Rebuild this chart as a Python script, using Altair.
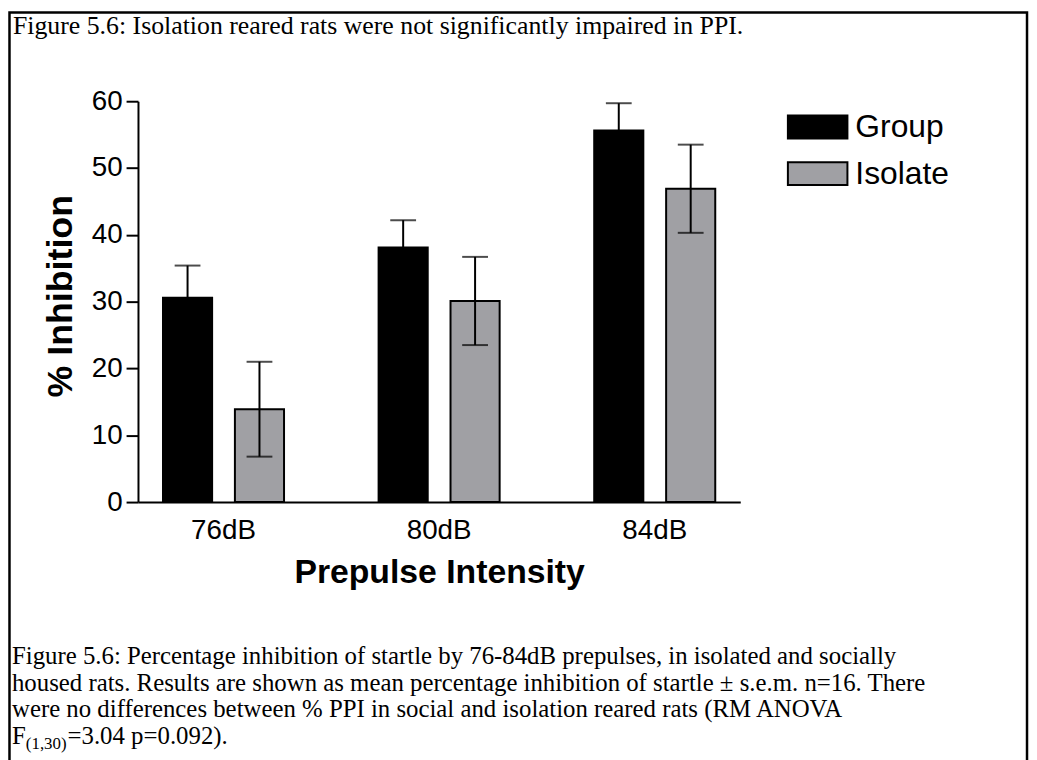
import altair as alt
import pandas as pd

# ---------------- data ----------------
categories = ["76dB", "80dB", "84dB"]
series = ["Group", "Isolate"]
group_mean = [30.6, 38.1, 55.6]
group_sem = [4.8, 4.1, 4.1]
isolate_mean = [13.9, 30.1, 46.9]
isolate_sem = [7.1, 6.6, 6.6]
y_ticks = [0, 10, 20, 30, 40, 50, 60]
series_colors = ["#000000", "#A0A0A4"]

title_text = "Figure 5.6: Isolation reared rats were not significantly impaired in PPI."
caption_lines = [
    "Figure 5.6: Percentage inhibition of startle by 76-84dB prepulses, in isolated and socially",
    "housed rats. Results are shown as mean percentage inhibition of startle \u00b1 s.e.m. n=16. There",
    "were no differences between % PPI in social and isolation reared rats (RM ANOVA",
]
caption_last = ["F", "(1,30)", "=3.04 p=0.092)."]

rows = []
for i, c in enumerate(categories):
    rows.append({"cat": c, "series": "Group", "mean": group_mean[i], "sem": group_sem[i]})
    rows.append({"cat": c, "series": "Isolate", "mean": isolate_mean[i], "sem": isolate_sem[i]})
df = pd.DataFrame(rows)
df["lo"] = df["mean"] - df["sem"]
df["hi"] = df["mean"] + df["sem"]

SANS = "Liberation Sans"
SERIF = "Liberation Serif"

x_enc = alt.X("cat:N", sort=categories,
              scale=alt.Scale(paddingInner=0.4386, paddingOuter=0.116),
              axis=alt.Axis(title="Prepulse Intensity", labelAngle=0, ticks=False, tickSize=0,
                            labelFont=SANS, labelFontSize=28, labelPadding=15, labelColor="black",
                            titleFont=SANS, titleFontSize=34, titleFontWeight="bold", titleColor="black",
                            titleY=81, titleBaseline="alphabetic",
                            domainColor="black", domainWidth=2))
xo_enc = alt.XOffset("series:N", sort=series, scale=alt.Scale(paddingInner=0.317, paddingOuter=0))
y_enc = alt.Y("mean:Q", scale=alt.Scale(domain=[0, 60], nice=False),
              axis=alt.Axis(title="% Inhibition", values=y_ticks, grid=False,
                            tickSize=12, tickWidth=2, tickColor="black",
                            domainColor="black", domainWidth=2,
                            labelFont=SANS, labelFontSize=28, labelPadding=4, labelColor="black",
                            titleFont=SANS, titleFontSize=36, titleFontWeight="bold", titleColor="black",
                            titleAngle=270, titleX=-78, titleY=196, titleAlign="center",
                            titleBaseline="middle"))

bars = alt.Chart(df).mark_bar(stroke="black", strokeWidth=2).encode(
    x=x_enc,
    xOffset=xo_enc,
    y=y_enc,
    fill=alt.Fill("series:N", sort=series,
                  scale=alt.Scale(domain=series, range=series_colors),
                  legend=alt.Legend(title=None, orient="none", legendX=669, legendY=10,
                                    symbolType="M-2,-0.767L2,-0.767L2,0.767L-2,0.767Z",
                                    symbolSize=900, symbolStrokeColor="black", symbolStrokeWidth=2,
                                    symbolOpacity=1, labelFont=SANS, labelFontSize=32,
                                    labelColor="black", labelOffset=22, rowPadding=15, padding=0)),
)

err = alt.Chart(df).mark_rule(color="black", strokeWidth=2).encode(
    x=alt.X("cat:N", sort=categories),
    xOffset=alt.XOffset("series:N", sort=series),
    y="lo:Q",
    y2="hi:Q",
)
caps = alt.Chart(df).mark_tick(color="black", thickness=2, size=26).encode(
    x=alt.X("cat:N", sort=categories),
    xOffset=alt.XOffset("series:N", sort=series),
    y="hi:Q",
)
caps_lo = alt.Chart(df).mark_tick(color="black", thickness=2, size=26).encode(
    x=alt.X("cat:N", sort=categories),
    xOffset=alt.XOffset("series:N", sort=series),
    y="lo:Q",
)

def text_layer(txt, x, y, size, font=SERIF, weight="normal"):
    return alt.Chart(pd.DataFrame({"t": [txt]})).mark_text(
        align="left", baseline="alphabetic", font=font, fontSize=size,
        fontWeight=weight, color="black"
    ).encode(text="t:N", x=alt.value(x), y=alt.value(y))

layers = [bars, err, caps, caps_lo]
layers.append(text_layer(title_text, -126, -68, 26))
for k, line in enumerate(caption_lines):
    layers.append(text_layer(line, -127, 567 + 27 * k, 25))
layers.append(text_layer(caption_last[0], -127, 648, 25))
layers.append(text_layer(caption_last[1], -113, 653, 17))
layers.append(text_layer(caption_last[2], -71, 648, 25))

border = alt.Chart(pd.DataFrame({"b": [1]})).mark_rect(
    fill=None, stroke="black", strokeWidth=2.5
).encode(x=alt.value(-129.5), x2=alt.value(896), y=alt.value(-89.5), y2=alt.value(720))
layers.append(border)

chart = alt.layer(*layers).properties(
    width=607, height=404,
    padding={"left": 131, "top": 91, "right": 291, "bottom": 257},
    autosize=alt.AutoSizeParams(type="none"),
    background="white",
).configure_view(stroke=None)

chart.save("out.html", embed_options={"renderer": "svg", "actions": False})
